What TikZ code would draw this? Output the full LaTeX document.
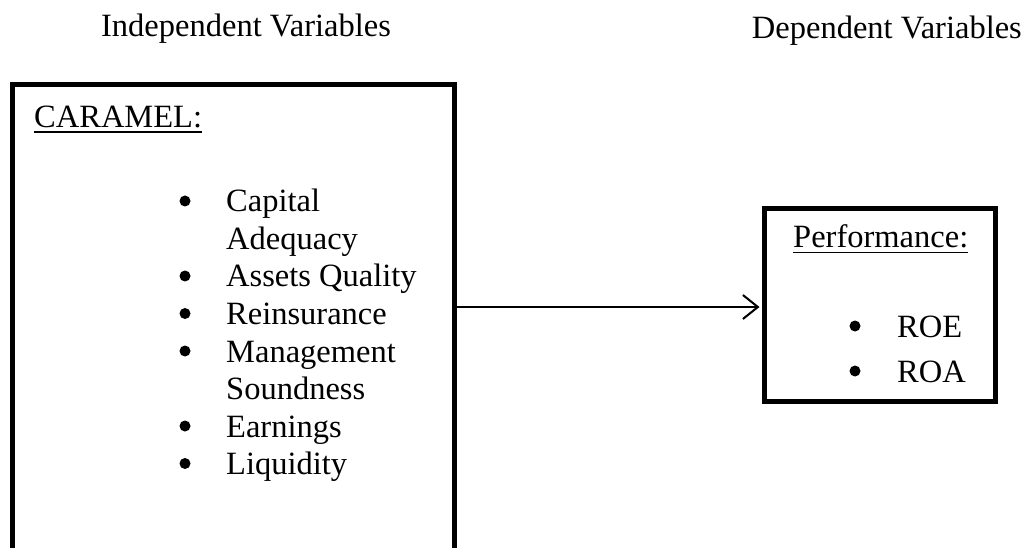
\documentclass[tikz,border=0pt]{standalone}
\usepackage{fontspec}
\setmainfont{Liberation Serif}
\usetikzlibrary{arrows.meta}
\begin{document}
\begin{tikzpicture}[x=1pt,y=-1pt,
  txt/.style={inner sep=0pt, anchor=base west, font=\fontsize{32.5}{37.5}\selectfont},
  box/.style={draw, line width=5pt, inner sep=0pt},
  bul/.style={circle, fill, inner sep=0pt, minimum size=11pt},
  ul/.style={line width=1.6pt},
  conn/.style={line width=2pt, shorten >=2.5pt, -{Straight Barb[length=15pt,width=24pt,line width=2pt]}}]
\useasboundingbox (0,0) rectangle (1026,548);
% headings
\node[txt, anchor=base] (indep) at (246,37) {Independent Variables};
\node[txt, anchor=base east] (dep) at (1022,39) {Dependent Variables};
% boxes
\node[box, minimum width=442pt, minimum height=480pt] (left) at (233.5,324.5) {};
\node[box, minimum width=231pt, minimum height=193pt] (right) at (880,305) {};
% left box content
\node[txt] (caramel) at (34,128) {CARAMEL:};
\draw[ul] ([yshift=-4pt]caramel.base west) -- ([yshift=-4pt]caramel.base east);
\node[bul] (b1) at (185,201) {};
\node[txt] (t1) at (226,212) {Capital};
\node[txt] (t1b) at (226,249.5) {Adequacy};
\node[bul] (b2) at (185,276) {};
\node[txt] (t2) at (226,287) {Assets Quality};
\node[bul] (b3) at (185,313.5) {};
\node[txt] (t3) at (226,324.5) {Reinsurance};
\node[bul] (b4) at (185,351) {};
\node[txt] (t4) at (226,362) {Management};
\node[txt] (t4b) at (226,399.5) {Soundness};
\node[bul] (b5) at (185,426) {};
\node[txt] (t5) at (226,437) {Earnings};
\node[bul] (b6) at (185,463.5) {};
\node[txt] (t6) at (226,474.5) {Liquidity};
% right box content
\node[txt] (perf) at (793,248) {Performance:};
\draw[ul] ([yshift=-4.5pt]perf.base west) -- ([yshift=-4.5pt]perf.base east);
\node[bul] (r1) at (855,326) {};
\node[txt] (roe) at (897,337) {ROE};
\node[bul] (r2) at (855,371) {};
\node[txt] (roa) at (897,382) {ROA};
% connector
\coordinate (ay) at (0,307);
\draw[conn] (left.east |- ay) -- (right.west |- ay);
\end{tikzpicture}
\end{document}
